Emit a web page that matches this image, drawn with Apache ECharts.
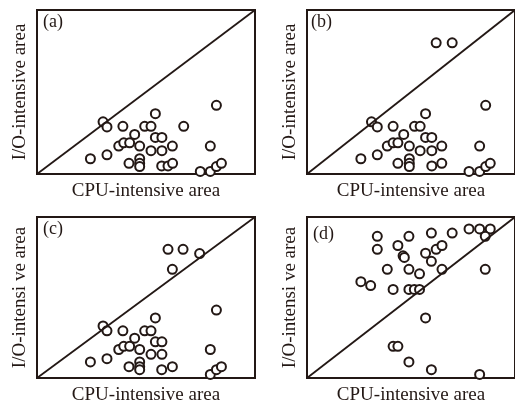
<!DOCTYPE html>
<html>
<head>
<meta charset="utf-8">
<script src="https://cdn.jsdelivr.net/npm/echarts@6/dist/echarts.min.js"></script>
<style>
  html, body { margin: 0; padding: 0; background: #fff; }
  #chart { width: 515px; height: 406px; }
</style>
</head>
<body>
<div id="chart"></div>
<script>
// Normalised positions (0-100) of each task in CPU-intensive (x) / I/O-intensive (y) space.
const pointsA = [
  [30.3, 31.8], [32.1, 28.7], [24.5, 9.3], [32.1, 11.7], [39.4, 29.1], [37.5, 17.0],
  [39.8, 19.0], [42.5, 19.0], [44.8, 24.1], [47.1, 17.0], [42.2, 6.5], [47.1, 9.3],
  [47.1, 6.5], [47.1, 4.5], [49.4, 29.1], [52.3, 29.1], [54.3, 36.8], [54.3, 22.3],
  [57.3, 22.3], [52.3, 14.2], [57.3, 14.2], [62.1, 17.0], [57.2, 4.9], [60.1, 4.9],
  [62.2, 6.5], [67.3, 29.1], [82.3, 41.9], [79.5, 17.0], [74.9, 1.6], [79.5, 1.6],
  [82.3, 4.5], [84.6, 6.5]
];
const pointsB = [
  [31.0, 31.8], [33.8, 28.7], [25.9, 9.3], [33.8, 11.7], [41.4, 29.1], [38.6, 17.0],
  [41.4, 19.0], [43.7, 19.0], [46.5, 24.1], [49.2, 17.0], [43.7, 6.5], [49.2, 9.3],
  [49.2, 6.5], [49.2, 4.5], [51.7, 29.1], [54.4, 29.1], [57.0, 36.8], [57.0, 22.3],
  [60.0, 22.3], [54.4, 14.2], [60.0, 14.2], [64.8, 17.0], [60.0, 4.9], [64.8, 6.5],
  [62.1, 80.0], [69.8, 80.0], [85.9, 41.9], [83.0, 17.0], [77.9, 1.6], [83.0, 1.6],
  [85.9, 4.5], [88.1, 6.5]
];
const pointsC = [
  [30.3, 32.3], [32.1, 29.3], [24.5, 10.0], [32.1, 12.0], [39.4, 29.3], [37.5, 17.7],
  [39.8, 19.7], [42.5, 19.7], [44.8, 24.7], [47.1, 17.7], [42.2, 7.0], [47.1, 10.0],
  [47.1, 7.0], [47.1, 5.2], [49.4, 29.3], [52.3, 29.3], [54.3, 37.3], [54.3, 22.5],
  [57.3, 22.5], [52.3, 14.7], [57.3, 14.7], [57.2, 5.2], [62.1, 7.0], [60.1, 79.9],
  [67.0, 79.9], [74.6, 77.3], [62.1, 67.5], [82.3, 42.2], [79.5, 17.7], [79.5, 2.2],
  [82.3, 5.2], [84.6, 7.0]
];
const pointsD = [
  [33.8, 88.0], [33.8, 79.9], [43.7, 82.3], [49.0, 88.0], [59.8, 90.0], [69.8, 90.0],
  [77.9, 92.6], [83.0, 92.6], [88.1, 92.6], [85.7, 88.0], [46.2, 75.9], [46.8, 74.9],
  [57.0, 77.5], [62.1, 79.9], [64.9, 82.3], [59.8, 72.5], [38.6, 67.5], [49.0, 67.5],
  [54.1, 64.7], [64.9, 67.5], [85.7, 67.5], [25.9, 59.8], [30.6, 57.4], [41.4, 55.0],
  [49.0, 55.0], [51.6, 55.0], [54.1, 55.0], [57.0, 37.3], [41.4, 19.7], [43.7, 19.7],
  [49.0, 10.0], [59.8, 5.2], [83.0, 2.2]
];
// Balance line: equal CPU and I/O intensity.
const balanceLine = [[0, 0], [100, 100]];

const panelLabels = ['(a)', '(b)', '(c)', '(d)'];
const panelPoints = [pointsA, pointsB, pointsC, pointsD];
const xTitle = 'CPU-intensive area';
const yTitles = ['I/O-intensive area', 'I/O-intensive area', 'I/O-intensi ve area', 'I/O-intensi ve area'];

const ink = '#231815';
const serif = '"Liberation Serif", "Times New Roman", serif';

const grids = [
  { left: 37, top: 10, width: 218, height: 164 },
  { left: 307, top: 10, width: 210, height: 164 },
  { left: 37, top: 217, width: 218, height: 165 },
  { left: 307, top: 217, width: 210, height: 165 }
];
const labelPos = [[43, 13], [311, 13], [43, 220], [313, 225]];
const xNameGap = [8, 8, 8, 8];

const option = {
  animation: false,
  backgroundColor: '#fff',
  grid: grids.map(g => Object.assign({
    show: true, borderColor: ink, borderWidth: 2, backgroundColor: 'transparent'
  }, g)),
  xAxis: grids.map((g, i) => ({
    gridIndex: i, type: 'value', min: 0, max: 100,
    axisLine: { show: false }, axisTick: { show: false },
    axisLabel: { show: false }, splitLine: { show: false },
    name: xTitle, nameLocation: 'middle', nameGap: xNameGap[i],
    nameTextStyle: { fontFamily: serif, fontSize: 19, color: ink }
  })),
  yAxis: grids.map((g, i) => ({
    gridIndex: i, type: 'value', min: 0, max: 100,
    axisLine: { show: false }, axisTick: { show: false },
    axisLabel: { show: false }, splitLine: { show: false },
    name: yTitles[i], nameLocation: 'middle', nameGap: 7, nameRotate: 90,
    nameTextStyle: { fontFamily: serif, fontSize: 19, color: ink }
  })),
  graphic: panelLabels.map((t, i) => ({
    type: 'text', left: labelPos[i][0], top: labelPos[i][1],
    style: { text: t, font: '18px ' + serif, fill: ink }
  })),
  series: []
};

panelPoints.forEach((pts, i) => {
  option.series.push({
    type: 'line', xAxisIndex: i, yAxisIndex: i, data: balanceLine,
    symbol: 'none', silent: true,
    lineStyle: { color: ink, width: 1.8 }
  });
  option.series.push({
    type: 'scatter', xAxisIndex: i, yAxisIndex: i, data: pts,
    symbol: 'circle', symbolSize: 9,
    itemStyle: { color: '#fff', borderColor: ink, borderWidth: 2, opacity: 1 }
  });
});

const chart = echarts.init(document.getElementById('chart'), null, { renderer: 'canvas' });
chart.setOption(option);
</script>
</body>
</html>
